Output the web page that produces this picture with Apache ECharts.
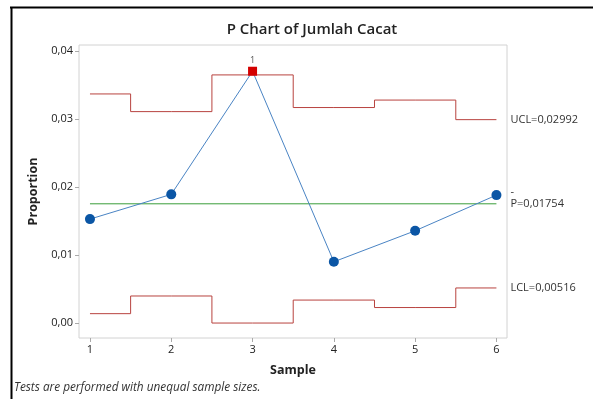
<!DOCTYPE html>
<html>
<head>
<meta charset="utf-8">
<script src="https://cdn.jsdelivr.net/npm/echarts@6/dist/echarts.min.js"></script>
<style>html,body{margin:0;padding:0;background:#fff;}#c{width:593px;height:399px;}</style>
</head>
<body>
<div id="c"></div>
<script>
var samples = [1, 2, 3, 4, 5, 6];
var proportion = [0.01529, 0.01893, 0.03704, 0.00901, 0.01357, 0.01882];
var ucl = [0.0337, 0.0311, 0.0365, 0.0317, 0.0328, 0.02992];
var lcl = [0.00138, 0.00398, 0, 0.00338, 0.00228, 0.00516];
var pbar = 0.01754;
var yTicks = [0, 0.01, 0.02, 0.03, 0.04];
var outOfControl = [3];

var FONT = '"Open Sans", "Noto Sans", sans-serif';
function fmt(v) { return v.toFixed(2).replace('.', ','); }

var dataPts = samples.map(function (s, i) {
  var d = { value: [s, proportion[i]] };
  if (outOfControl.indexOf(s) >= 0) {
    d.symbol = 'rect';
    d.symbolSize = 9;
    d.itemStyle = { color: '#d40000' };
    d.label = { show: true, position: 'top', distance: 2, formatter: '1', fontSize: 9, color: '#555', fontFamily: FONT };
  }
  return d;
});

var chart = echarts.init(document.getElementById('c'), null, { renderer: 'canvas' });
chart.setOption({
  backgroundColor: '#fff',
  animation: false,
  title: {
    text: 'P Chart of Jumlah Cacat',
    left: 307, top: 17, textAlign: 'center',
    textStyle: { fontFamily: FONT, fontSize: 15, fontWeight: 600, color: '#222' }
  },
  grid: {
    left: 79, right: 86, top: 45, bottom: 61,
    show: true, borderColor: '#d2d2d2', borderWidth: 1, containLabel: false
  },
  xAxis: {
    type: 'value', min: 0.865, max: 6.13,
    name: 'Sample', nameLocation: 'middle', nameGap: 26,
    nameTextStyle: { fontFamily: FONT, fontSize: 12.5, fontWeight: 'bold', color: '#222' },
    axisLine: { show: false, onZero: false },
    splitLine: { show: false },
    axisTick: { show: true, length: 4, lineStyle: { color: '#aaa' }, customValues: samples },
    axisLabel: { customValues: samples, fontFamily: FONT, fontSize: 11, color: '#222', margin: 6, formatter: function (v) { return String(v); } }
  },
  yAxis: {
    type: 'value', min: -0.0022, max: 0.0409,
    name: 'Proportion', nameLocation: 'middle', nameGap: 38, nameRotate: 90,
    nameTextStyle: { fontFamily: FONT, fontSize: 12.5, fontWeight: 'bold', color: '#222' },
    axisLine: { show: false, onZero: false },
    splitLine: { show: false },
    axisTick: { show: true, length: 4, lineStyle: { color: '#aaa' }, customValues: yTicks },
    axisLabel: { customValues: yTicks, fontFamily: FONT, fontSize: 11, color: '#222', margin: 6, formatter: fmt }
  },
  graphic: [
    { type: 'line', shape: { x1: 10, y1: 7.5, x2: 593, y2: 7.5 }, style: { stroke: '#000', lineWidth: 2 } },
    { type: 'line', shape: { x1: 11.5, y1: 7, x2: 11.5, y2: 399 }, style: { stroke: '#000', lineWidth: 2 } },
    { type: 'text', left: 14, top: 382, style: { text: 'Tests are performed with unequal sample sizes.', font: 'italic 11.8px ' + FONT, fill: '#333' } }
  ],
  series: [
    {
      type: 'line', step: 'middle', symbol: 'none', silent: true,
      data: samples.map(function (s, i) { return [s, ucl[i]]; }),
      lineStyle: { color: '#b8433f', width: 1 },
      endLabel: { show: true, distance: 14, formatter: 'UCL=0,02992', fontFamily: FONT, fontSize: 11, color: '#333' }
    },
    {
      type: 'line', step: 'middle', symbol: 'none', silent: true,
      data: samples.map(function (s, i) { return [s, lcl[i]]; }),
      lineStyle: { color: '#b8433f', width: 1 },
      endLabel: { show: true, distance: 14, formatter: 'LCL=0,00516', fontFamily: FONT, fontSize: 11, color: '#333' }
    },
    {
      type: 'line', symbol: 'none', silent: true,
      data: [[samples[0], pbar], [samples[samples.length - 1], pbar]],
      lineStyle: { color: '#3a9d3a', width: 1 },
      endLabel: {
        show: true, distance: 14, offset: [0, -5],
        formatter: '{b|-}\n{t|P=0,01754}',
        rich: {
          b: { fontFamily: FONT, fontSize: 11, color: '#333', lineHeight: 10 },
          t: { fontFamily: FONT, fontSize: 11, color: '#333', lineHeight: 13 }
        }
      }
    },
    {
      type: 'line', data: dataPts, symbol: 'circle', symbolSize: 10,
      itemStyle: { color: '#0b56a5' },
      lineStyle: { color: '#4a84c4', width: 1 },
      z: 5
    }
  ]
});
</script>
</body>
</html>
